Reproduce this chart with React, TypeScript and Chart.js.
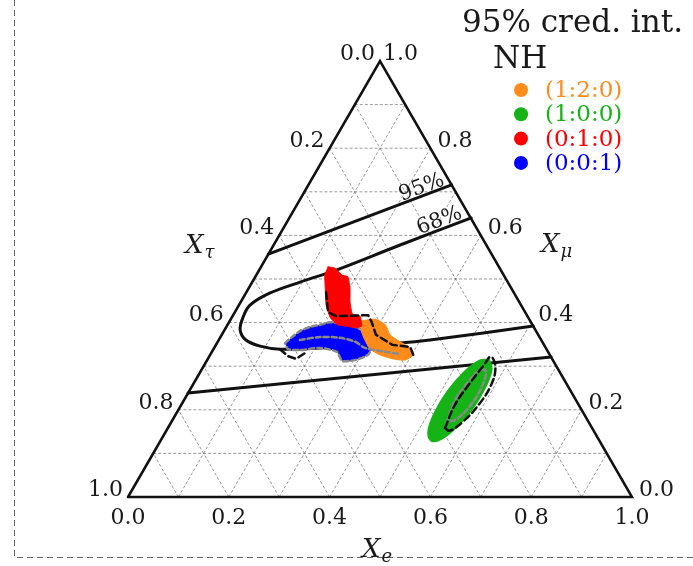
import React, { useEffect, useRef } from 'react';
import { Chart, registerables } from 'chart.js';
Chart.register(...registerables);

const S3 = Math.sqrt(3) / 2;

// ternary grid / ticks
const gridSteps = [0.1, 0.2, 0.3, 0.4, 0.5, 0.6, 0.7, 0.8, 0.9];
const tickValues = [0, 0.2, 0.4, 0.6, 0.8, 1.0];
const tickLabels = ['0.0', '0.2', '0.4', '0.6', '0.8', '1.0'];

// contours: X_e and X_mu (X_tau = 1 - X_e - X_mu)
const c95UpperE = [0.0, 0.284];
const c95UpperMu = [0.557, 0.716];
const c95LowerE = [0.0, 0.679];
const c95LowerMu = [0.2385, 0.321];
const c68E = [0.361, 0.251, 0.154, 0.095, 0.048, 0.022, 0.022, 0.031, 0.054, 0.089, 0.132, 0.210, 0.287, 0.363, 0.419, 0.608];
const c68Mu = [0.640, 0.578, 0.521, 0.493, 0.468, 0.440, 0.413, 0.383, 0.360, 0.346, 0.339, 0.342, 0.348, 0.353, 0.360, 0.392];

// credible regions
const redE = [0.133, 0.148, 0.170, 0.184, 0.201, 0.217, 0.235, 0.253, 0.268, 0.261, 0.235, 0.218, 0.196, 0.173, 0.154, 0.136, 0.133];
const redMu = [0.528, 0.525, 0.509, 0.505, 0.479, 0.447, 0.420, 0.415, 0.392, 0.388, 0.392, 0.395, 0.411, 0.440, 0.475, 0.509, 0.528];
const orangeE = [0.263, 0.286, 0.313, 0.334, 0.362, 0.389, 0.403, 0.393, 0.366, 0.337, 0.311, 0.290, 0.271, 0.263];
const orangeMu = [0.404, 0.408, 0.395, 0.372, 0.356, 0.342, 0.326, 0.314, 0.317, 0.326, 0.339, 0.360, 0.383, 0.404];
const blueE = [0.135, 0.142, 0.151, 0.166, 0.184, 0.200, 0.226, 0.250, 0.273, 0.294, 0.312, 0.313, 0.293, 0.269, 0.248, 0.210, 0.173, 0.148, 0.135];
const blueMu = [0.353, 0.367, 0.381, 0.390, 0.395, 0.401, 0.397, 0.392, 0.383, 0.372, 0.349, 0.326, 0.314, 0.312, 0.333, 0.342, 0.337, 0.339, 0.353];
const greenE = [0.559, 0.575, 0.583, 0.582, 0.571, 0.554, 0.536, 0.520, 0.512, 0.513, 0.524, 0.541, 0.559];
const greenMu = [0.315, 0.293, 0.251, 0.202, 0.159, 0.132, 0.130, 0.152, 0.194, 0.243, 0.287, 0.313, 0.315];
const greenOutlineE = [0.550, 0.543, 0.548, 0.555, 0.559, 0.580, 0.592, 0.590, 0.578, 0.562, 0.550];
const greenOutlineMu = [0.158, 0.211, 0.262, 0.303, 0.322, 0.298, 0.257, 0.211, 0.172, 0.152, 0.158];
const greenInnerE = [0.547, 0.538, 0.543, 0.553, 0.567, 0.576, 0.573, 0.561, 0.547];
const greenInnerMu = [0.172, 0.223, 0.264, 0.291, 0.287, 0.245, 0.204, 0.177, 0.172];
const blackDashAE = [0.158, 0.185, 0.205, 0.268, 0.283, 0.306, 0.350, 0.388, 0.403];
const blackDashAMu = [0.470, 0.424, 0.415, 0.417, 0.401, 0.372, 0.349, 0.344, 0.326];
const blackDashBE = [0.132, 0.156, 0.175, 0.186];
const blackDashBMu = [0.339, 0.323, 0.317, 0.330];
const grayInnerE = [0.161, 0.198, 0.238, 0.273, 0.299, 0.344, 0.376];
const grayInnerMu = [0.360, 0.367, 0.365, 0.356, 0.342, 0.333, 0.328];

const legendLabels = ['(1:2:0)', '(1:0:0)', '(0:1:0)', '(0:0:1)'];
const legendColors = ['#ff8c1a', '#16b316', '#ff0000', '#0000ff'];

const pt = (e: number, mu: number) => ({ x: e + mu / 2, y: mu * S3 });
const pts = (es: number[], mus: number[]) => es.map((e, i) => pt(e, mus[i]));
const GAP = { x: null as any, y: null as any };

function buildGrid() {
  const out: any[] = [];
  gridSteps.forEach((v) => {
    out.push(pt(0, v), pt(1 - v, v), GAP);
    out.push(pt(v, 0), pt(v, 1 - v), GAP);
    out.push(pt(1 - v, 0), pt(0, 1 - v), GAP);
  });
  return out;
}

const textPlugin = {
  id: 'ternaryText',
  afterDraw(chart: any) {
    const ctx = chart.ctx;
    const xs = chart.scales.x;
    const ys = chart.scales.y;
    const P = (e: number, mu: number) => [xs.getPixelForValue(e + mu / 2), ys.getPixelForValue(mu * S3)];
    ctx.save();
    // dashed frame
    ctx.strokeStyle = '#666';
    ctx.lineWidth = 1;
    ctx.setLineDash([6, 4]);
    ctx.beginPath();
    ctx.moveTo(14.5, 0);
    ctx.lineTo(14.5, 557.5);
    ctx.lineTo(693, 557.5);
    ctx.stroke();
    ctx.setLineDash([]);

    ctx.fillStyle = '#1a1a1a';
    ctx.font = "22px 'DejaVu Serif'";
    ctx.textBaseline = 'middle';
    ctx.textAlign = 'center';
    tickValues.forEach((v, i) => {
      const [px, py] = P(v, 0);
      ctx.fillText(tickLabels[i], px, py + 21);
    });
    ctx.textAlign = 'right';
    tickValues.forEach((v, i) => {
      const [px, py] = P(0, 1 - v);
      ctx.fillText(tickLabels[i], px - 5, py - 7);
    });
    ctx.textAlign = 'left';
    tickValues.forEach((v, i) => {
      const [px, py] = P(1 - v, v);
      ctx.fillText(tickLabels[i], px + (v === 1 ? 3 : 7), py - 7);
    });

    // axis titles
    ctx.textBaseline = 'alphabetic';
    const axisTitle = (x: number, y: number, sub: string) => {
      ctx.font = "italic 26px 'DejaVu Serif'";
      ctx.fillText('X', x, y);
      const w = ctx.measureText('X').width;
      ctx.font = "italic 18px 'DejaVu Serif'";
      ctx.fillText(sub, x + w + 1, y + 5);
    };
    {
      const [px, py] = P(0.5, 0);
      axisTitle(px - 18, py + 60, 'e');
    }
    {
      const [px, py] = P(0, 0.5);
      axisTitle(px - 69, py - 26, 'τ');
    }
    {
      const [px, py] = P(0.5, 0.5);
      axisTitle(px + 35, py - 27, 'μ');
    }

    // contour labels
    ctx.font = "21px 'DejaVu Serif'";
    ctx.textAlign = 'center';
    const ang = Math.atan2(-(c95UpperMu[1] - c95UpperMu[0]) * S3, (c95UpperE[1] + c95UpperMu[1] / 2) - (c95UpperE[0] + c95UpperMu[0] / 2));
    {
      const [px, py] = P(c95UpperE[1], c95UpperMu[1]);
      ctx.save();
      ctx.translate(px - 28, py + 8);
      ctx.rotate(ang * (ys.height / S3) / xs.width);
      ctx.fillText('95%', 0, 0);
      ctx.restore();
    }
    {
      const [px, py] = P(c68E[0], c68Mu[0]);
      ctx.save();
      ctx.translate(px - 30, py + 8);
      ctx.rotate(ang * (ys.height / S3) / xs.width);
      ctx.fillText('68%', 0, 0);
      ctx.restore();
    }

    // legend
    ctx.textAlign = 'left';
    ctx.fillStyle = '#1a1a1a';
    ctx.font = "31px 'DejaVu Serif'";
    ctx.fillText('95% cred. int.', 462, 32);
    ctx.fillText('NH', 493, 68);
    ctx.font = "23px 'DejaVu Serif'";
    ctx.textBaseline = 'middle';
    legendLabels.forEach((lab, i) => {
      const y = 90 + i * 24.3;
      ctx.fillStyle = legendColors[i];
      ctx.beginPath();
      ctx.arc(521, y, 7, 0, Math.PI * 2);
      ctx.fill();
      ctx.fillText(lab, 545, y + 1);
    });
    ctx.restore();
  },
};

export default function App() {
  const ref = useRef<HTMLCanvasElement | null>(null);
  useEffect(() => {
    if (!ref.current) return;
    const line = (data: any[], extra: any) => ({
      data,
      pointRadius: 0,
      fill: false,
      clip: false,
      tension: 0,
      borderCapStyle: 'round',
      borderJoinStyle: 'round',
      ...extra,
    });
    const chart = new Chart(ref.current, {
      type: 'line',
      data: {
        datasets: [
          line(buildGrid(), { label: 'grid', borderColor: 'rgba(110,110,110,0.7)', borderWidth: 1, borderDash: [3, 2], borderCapStyle: 'butt', order: 100 }),
          line(pts([0, 1, 0, 0], [0, 0, 1, 0]), { label: 'frame', borderColor: '#111', borderWidth: 2.5, borderJoinStyle: 'miter', order: 95 }),
          line(pts(c95UpperE, c95UpperMu), { label: '95% upper', borderColor: '#111', borderWidth: 3, order: 90 }),
          line(pts(c95LowerE, c95LowerMu), { label: '95% lower', borderColor: '#111', borderWidth: 3, order: 90 }),
          line(pts(c68E, c68Mu), { label: '68%', borderColor: '#111', borderWidth: 3, tension: 0.35, order: 90 }),
          line(pts(blueE, blueMu), { label: '(0:0:1)', borderColor: '#8a8a8a', backgroundColor: '#0000ff', fill: 'shape', borderWidth: 2.5, borderDash: [5, 3], tension: 0.2, order: 70 }),
          line(pts(orangeE, orangeMu), { label: '(1:2:0)', borderColor: '#ff8c1a', backgroundColor: '#ff8c1a', fill: 'shape', borderWidth: 1, tension: 0.2, order: 65 }),
          line(pts(redE, redMu), { label: '(0:1:0)', borderColor: '#ff0000', backgroundColor: '#ff0000', fill: 'shape', borderWidth: 1, tension: 0.1, order: 60 }),
          line(pts(greenE, greenMu), { label: '(1:0:0)', borderColor: '#16b316', backgroundColor: '#16b316', fill: 'shape', borderWidth: 2, tension: 0.4, order: 60 }),
          line(pts(grayInnerE, grayInnerMu), { label: 'gray inner', borderColor: '#8a8a8a', borderWidth: 2.5, borderDash: [5, 3], tension: 0.3, order: 50 }),
          line(pts(greenInnerE, greenInnerMu), { label: 'green inner', borderColor: '#8a8a8a', borderWidth: 2.5, borderDash: [5, 3], tension: 0.4, order: 50 }),
          line(pts(greenOutlineE, greenOutlineMu), { label: 'green outline', borderColor: '#111', borderWidth: 2.5, borderDash: [7, 4], tension: 0.4, order: 40 }),
          line(pts(blackDashAE, blackDashAMu), { label: 'outline A', borderColor: '#111', borderWidth: 2.5, borderDash: [7, 4], order: 40 }),
          line(pts(blackDashBE, blackDashBMu), { label: 'outline B', borderColor: '#111', borderWidth: 2.5, borderDash: [7, 4], order: 40 }),
        ],
      },
      options: {
        animation: false,
        responsive: false,
        devicePixelRatio: 1,
        events: [],
        layout: { padding: { left: 128, right: 61, top: 61, bottom: 69 } },
        scales: {
          x: { type: 'linear', min: 0, max: 1, display: false },
          y: { type: 'linear', min: 0, max: S3, display: false },
        },
        plugins: { legend: { display: false }, tooltip: { enabled: false } },
      } as any,
      plugins: [textPlugin],
    } as any);
    return () => chart.destroy();
  }, []);
  return (
    <div style={{ position: 'absolute', left: 0, top: 0, width: 693, height: 566, background: '#fff' }}>
      <canvas ref={ref} width={693} height={566} style={{ display: 'block' }} />
    </div>
  );
}
